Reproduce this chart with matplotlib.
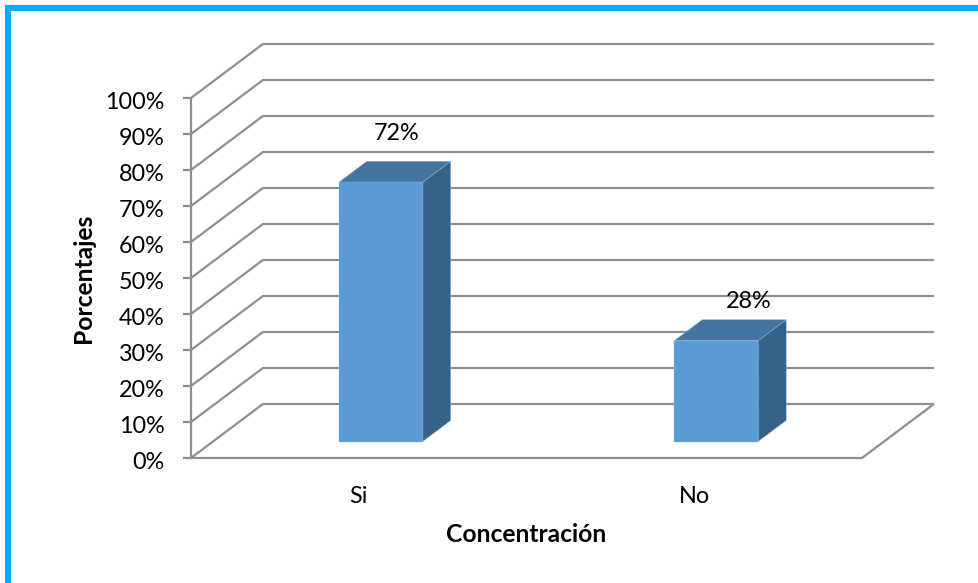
"""Bar chart with a hand-built 3D look: back wall, floor and prism bars."""
import matplotlib
matplotlib.use("Agg")
import matplotlib.pyplot as plt
from matplotlib.patches import Polygon, Rectangle
from matplotlib.transforms import ScaledTranslation

categories = ["Si", "No"]
values = [72, 28]
ticks = list(range(0, 101, 10))
tick_labels = [f"{t}%" for t in ticks]

GRID = "#8f8f8f"
FRONT = "#5b9bd5"
TOP = "#44749f"
SIDE = "#376288"
BORDER = "#00b0f0"

# oblique offset of the back wall, in category units and percent
DX = 0.2144
DY = 15.0
BAR_W = 0.25
BAR_D0 = 0.305
BAR_D1 = 0.695


def project(x, v, d):
    return (x + DX * d, v + DY * d)


plt.rcParams["font.family"] = ["Lato", "DejaVu Sans"]
W, H = 979, 583
fig = plt.figure(figsize=(W / 100, H / 100), dpi=100)
fig.patches.append(Rectangle((8.5 / W, -0.1), 1.2, 1.1 - 8 / H, transform=fig.transFigure,
                             fill=False, ec=BORDER, lw=4.4))

# front plane of the chart: x 191-862 px, y 98-458 px
ax = fig.add_axes([191 / W, 1 - 458 / H, 671 / W, 360 / H], facecolor="none")
ax.set_xlim(0, len(categories))
ax.set_ylim(0, 100)
for s in ("top", "right"):
    ax.spines[s].set_visible(False)
for s in ("left", "bottom"):
    ax.spines[s].set_color(GRID)
    ax.spines[s].set_linewidth(1.6)

ax.set_yticks(ticks)
ax.set_yticklabels(tick_labels, fontsize=16.8)
ax.tick_params(axis="y", color=GRID, width=1.6, length=6, pad=13)
nudge = ScaledTranslation(0, -1.5 / 72, fig.dpi_scale_trans)
for lbl in ax.get_yticklabels():
    lbl.set_transform(lbl.get_transform() + nudge)
ax.set_xticks([i + 0.5 for i in range(len(categories))])
ax.set_xticklabels(categories, fontsize=16.8)
ax.tick_params(axis="x", length=0, pad=20)
ax.set_ylabel("Porcentajes", fontsize=17.7, fontweight="bold")
ax.set_xlabel("Concentración", fontsize=17.7, fontweight="bold")
ax.yaxis.set_label_coords(-0.143, 0.5)
ax.xaxis.set_label_coords(0.5, -0.18)

# wall gridlines with their diagonals back to the axis
for t in ticks:
    pts = [project(0, t, 0), project(0, t, 1), project(len(categories), t, 1)]
    ax.plot(*zip(*pts), color=GRID, lw=1.6, clip_on=False, solid_joinstyle="miter",
            solid_capstyle="butt", zorder=1)
ax.plot(*zip(project(len(categories), 0, 0), project(len(categories), 0, 1)),
        color=GRID, lw=1.6, clip_on=False, solid_capstyle="butt", zorder=1)

label_offsets = [(1, 27.5), (13, 21)]
for i, v in enumerate(values):
    x0 = i + 0.5 - BAR_W / 2
    x1 = i + 0.5 + BAR_W / 2
    front = [project(x0, 0, BAR_D0), project(x1, 0, BAR_D0),
             project(x1, v, BAR_D0), project(x0, v, BAR_D0)]
    top = [project(x0, v, BAR_D0), project(x1, v, BAR_D0),
           project(x1, v, BAR_D1), project(x0, v, BAR_D1)]
    side = [project(x1, 0, BAR_D0), project(x1, 0, BAR_D1),
            project(x1, v, BAR_D1), project(x1, v, BAR_D0)]
    for poly, col in ((side, SIDE), (top, TOP), (front, FRONT)):
        ax.add_patch(Polygon(poly, closed=True, fc=col, ec="#8fb4dc", lw=0.3,
                             clip_on=False, zorder=3))
    ax.annotate(f"{v}%", xy=project(i + 0.5, v, (BAR_D0 + BAR_D1) / 2),
                xytext=label_offsets[i], textcoords="offset points",
                ha="center", va="center", fontsize=16.8, zorder=4)

fig.savefig("out.png", dpi=100)
